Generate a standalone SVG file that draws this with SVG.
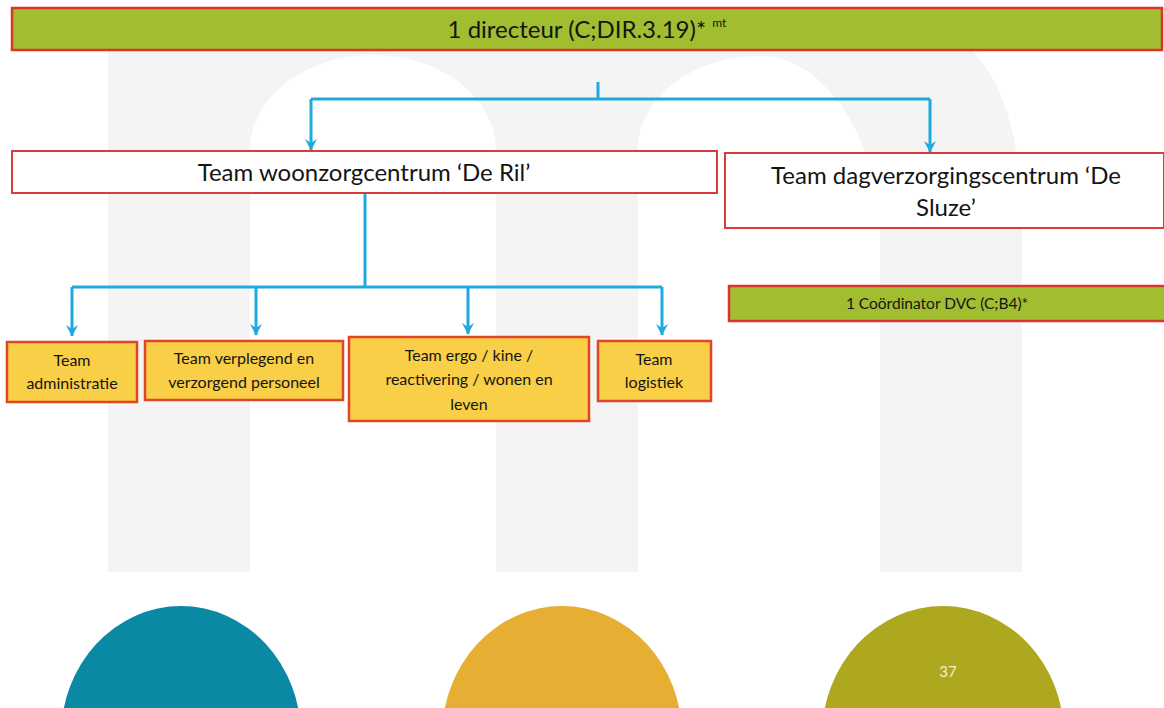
<svg xmlns="http://www.w3.org/2000/svg" width="1164" height="708" viewBox="0 0 1164 708">
  <defs>
    <style>
      .txt{font-family:Lato,"Open Sans","Liberation Sans",sans-serif;fill:#151515;text-anchor:middle}
      .green{fill:#a1be30;stroke:#d9362b;stroke-width:2.5}
      .white{fill:#ffffff;stroke:#dc3b3b;stroke-width:2}
      .yellow{fill:#f8cf46;stroke:#e0452a;stroke-width:2.5}
      .conn{fill:none;stroke:#1eaadf;stroke-width:3}
    </style>
    <marker id="arr" viewBox="0 0 14 14" refX="12" refY="7" markerWidth="14" markerHeight="14" markerUnits="userSpaceOnUse" orient="auto">
      <path d="M1,1 L12.5,7 L1,13 L5,7 Z" fill="#1eaadf"/>
    </marker>
  </defs>

  <rect x="0" y="0" width="1164" height="708" fill="#ffffff"/>

  <!-- background m -->
  <path fill="#f4f4f4" fill-rule="evenodd" d="M108,572 V40 H960 C1000,70 1022,130 1022,230 V572 H880 V230 C880,150 830,56 760,56 C690,56 638,100 638,150 V572 H496 V150 A123,95 0 0 0 250,150 V572 Z"/>

  <!-- bottom circles -->
  <ellipse cx="181" cy="736" rx="120" ry="130" fill="#0a89a5"/>
  <ellipse cx="562" cy="736" rx="120" ry="130" fill="#e6ae33"/>
  <ellipse cx="943" cy="736" rx="121" ry="130" fill="#aea81f"/>
  <text x="948" y="677" font-family="Lato,'Liberation Sans',sans-serif" font-size="15" fill="#f4efc8" text-anchor="middle">37</text>

  <!-- connectors -->
  <g id="connectors">
    <path class="conn" d="M598,82 V99"/>
    <path class="conn" d="M311,99 H930"/>
    <path class="conn" d="M311,99 V150" marker-end="url(#arr)"/>
    <path class="conn" d="M930,99 V152" marker-end="url(#arr)"/>
    <path class="conn" d="M365,194 V287"/>
    <path class="conn" d="M72,287 H662"/>
    <path class="conn" d="M72,287 V336" marker-end="url(#arr)"/>
    <path class="conn" d="M256,287 V335" marker-end="url(#arr)"/>
    <path class="conn" d="M468,287 V334" marker-end="url(#arr)"/>
    <path class="conn" d="M662,287 V335" marker-end="url(#arr)"/>
  </g>

  <g id="directeur">
    <rect class="green" x="12" y="8" width="1150" height="42"/>
    <text class="txt" x="587" y="38" font-size="24">1 directeur (C;DIR.3.19)* <tspan font-size="12" dy="-11">mt</tspan></text>
  </g>

  <g id="deril">
    <rect class="white" x="12" y="151" width="705" height="42"/>
    <text class="txt" x="364" y="181" font-size="24">Team woonzorgcentrum ‘De Ril’</text>
  </g>

  <g id="desluze">
    <rect class="white" x="725" y="153" width="439" height="75"/>
    <text class="txt" x="946" y="184" font-size="24">Team dagverzorgingscentrum ‘De</text>
    <text class="txt" x="946" y="216" font-size="24">Sluze’</text>
  </g>

  <g id="coordinator">
    <rect class="green" x="729" y="286" width="437" height="35"/>
    <text class="txt" x="937" y="309" font-size="15.5">1 Coördinator DVC (C;B4)*</text>
  </g>

  <g id="administratie">
    <rect class="yellow" x="7" y="342" width="130" height="60"/>
    <text class="txt" x="72" y="366" font-size="16">Team</text>
    <text class="txt" x="72" y="389" font-size="16">administratie</text>
  </g>

  <g id="verplegend">
    <rect class="yellow" x="145" y="341" width="198" height="59"/>
    <text class="txt" x="244" y="364" font-size="16">Team verplegend en</text>
    <text class="txt" x="244" y="388" font-size="16">verzorgend personeel</text>
  </g>

  <g id="ergo">
    <rect class="yellow" x="349" y="337" width="240" height="84"/>
    <text class="txt" x="469" y="361" font-size="16">Team ergo / kine /</text>
    <text class="txt" x="469" y="385" font-size="16">reactivering / wonen en</text>
    <text class="txt" x="469" y="410" font-size="16">leven</text>
  </g>

  <g id="logistiek">
    <rect class="yellow" x="598" y="341" width="113" height="60"/>
    <text class="txt" x="654" y="365" font-size="16">Team</text>
    <text class="txt" x="654" y="388" font-size="16">logistiek</text>
  </g>
</svg>
